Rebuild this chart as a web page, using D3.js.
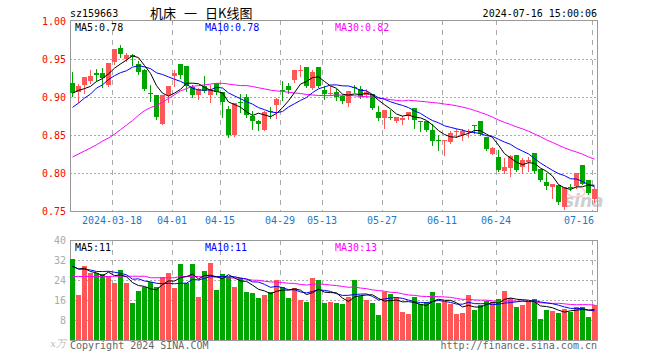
<!DOCTYPE html>
<html><head><meta charset="utf-8">
<script src="https://cdn.jsdelivr.net/npm/d3@7/dist/d3.min.js"></script>
<style>
body{margin:0;background:#fff}
svg{display:block}
text{font-family:"DejaVu Sans Mono",monospace}
</style>
</head><body>
<svg id="c" width="660" height="360"></svg>
<script>
// ---------- data ----------
const code = "sz159663";
const titleParts = ["机床","一","日K线图"];
const stamp = "2024-07-16 15:00:06";
const dates = [
"03-07","03-08","03-11","03-12","03-13","03-14","03-15","03-18","03-19","03-20",
"03-21","03-22","03-25","03-26","03-27","03-28","03-29","04-01","04-02","04-03",
"04-08","04-09","04-10","04-11","04-12","04-15","04-16","04-17","04-18","04-19",
"04-22","04-23","04-24","04-25","04-26","04-29","04-30","05-06","05-07","05-08",
"05-09","05-10","05-13","05-14","05-15","05-16","05-17","05-20","05-21","05-22",
"05-23","05-24","05-27","05-28","05-29","05-30","05-31","06-03","06-04","06-05",
"06-06","06-07","06-11","06-12","06-13","06-14","06-17","06-18","06-19","06-20",
"06-21","06-24","06-25","06-26","06-27","06-28","07-01","07-02","07-03","07-04",
"07-05","07-08","07-09","07-10","07-11","07-12","07-15","07-16"];
const opens = [
0.918,0.907,0.916,0.921,0.932,0.932,0.916,0.946,0.964,0.950,
0.955,0.944,0.935,0.9052,0.902,0.865,0.902,0.928,0.944,0.941,
0.9135,0.902,0.915,0.9025,0.918,0.906,0.8846,0.850,0.8934,0.9003,
0.8753,0.8687,0.857,0.881,0.8895,0.9087,0.9148,0.922,0.934,0.939,
0.912,0.939,0.9096,0.905,0.906,0.9008,0.892,0.913,0.911,0.903,
0.9035,0.8805,0.8722,0.8736,0.869,0.870,0.8745,0.8854,0.868,0.868,
0.857,0.8437,0.8424,0.8402,0.854,0.8503,0.854,0.8635,0.8678,0.8468,
0.8255,0.8217,0.802,0.807,0.8239,0.808,0.8143,0.8258,0.8051,0.788,
0.781,0.7844,0.7548,0.7816,0.7823,0.8108,0.791,0.7652];
const highs = [
0.933,0.917,0.926,0.935,0.937,0.938,0.945,0.963,0.969,0.958,
0.956,0.947,0.937,0.916,0.902,0.902,0.914,0.936,0.944,0.941,
0.916,0.912,0.927,0.916,0.918,0.906,0.8876,0.892,0.904,0.9043,
0.882,0.870,0.881,0.8863,0.8986,0.9216,0.919,0.935,0.942,0.939,
0.935,0.939,0.914,0.914,0.911,0.903,0.9083,0.916,0.914,0.910,
0.9035,0.8888,0.8832,0.8832,0.874,0.8755,0.880,0.8854,0.869,0.868,
0.8643,0.850,0.8437,0.8555,0.858,0.858,0.858,0.8635,0.868,0.848,
0.834,0.8305,0.8195,0.824,0.8239,0.8195,0.8204,0.8258,0.8051,0.7998,
0.7853,0.7844,0.781,0.7857,0.7998,0.8108,0.791,0.781];
const lows = [
0.901,0.894,0.905,0.918,0.922,0.913,0.914,0.944,0.953,0.948,
0.942,0.930,0.909,0.895,0.871,0.864,0.893,0.915,0.925,0.9075,
0.900,0.897,0.906,0.894,0.904,0.874,0.848,0.849,0.880,0.874,
0.858,0.856,0.856,0.873,0.873,0.896,0.9055,0.920,0.927,0.913,
0.911,0.913,0.898,0.902,0.8963,0.892,0.8885,0.907,0.899,0.900,
0.884,0.870,0.859,0.8714,0.8666,0.865,0.8714,0.859,0.8556,0.8547,
0.837,0.830,0.8231,0.8393,0.848,0.8428,0.8468,0.852,0.850,0.8297,
0.8245,0.802,0.7998,0.796,0.8029,0.7998,0.802,0.7998,0.789,0.7785,
0.7665,0.759,0.7527,0.777,0.780,0.786,0.772,0.762];
const closes = [
0.905,0.914,0.926,0.928,0.929,0.9245,0.945,0.963,0.956,0.955,
0.952,0.933,0.911,0.9048,0.874,0.902,0.914,0.931,0.929,0.915,
0.902,0.910,0.908,0.9096,0.9065,0.893,0.850,0.8916,0.8916,0.8767,
0.869,0.8643,0.8806,0.8797,0.8977,0.9075,0.9096,0.935,0.935,0.915,
0.933,0.915,0.9043,0.9055,0.8995,0.8945,0.9083,0.9125,0.9015,0.9068,
0.8855,0.8725,0.8832,0.8732,0.8736,0.872,0.8797,0.8695,0.8678,0.857,
0.8415,0.8432,0.8437,0.8525,0.8547,0.8547,0.8547,0.8632,0.8512,0.8318,
0.8328,0.8042,0.8073,0.8225,0.8042,0.8165,0.8174,0.803,0.791,0.7834,
0.7853,0.7615,0.781,0.7812,0.7998,0.786,0.7735,0.7784];
const volumes = [
32.6,18.2,29.8,27.0,26.7,26.6,25.6,23.0,28.2,23.0,
15.0,19.7,21.3,23.4,21.1,25.3,27.0,21.0,30.4,23.0,
30.4,17.4,27.8,30.8,20.2,26.4,25.4,21.4,24.7,19.3,
19.0,17.0,18.2,19.1,24.1,21.4,17.0,20.9,16.2,15.4,
25.0,24.1,15.0,15.3,14.9,14.5,17.4,24.2,17.8,16.1,
14.9,10.1,19.1,18.5,17.3,11.3,10.5,17.4,14.6,15.3,
19.3,14.9,15.3,14.5,10.5,10.9,18.1,12.1,14.2,15.7,
15.2,16.5,19.7,16.9,13.3,14.1,15.7,16.5,8.5,12.1,
11.7,10.9,12.5,11.2,13.3,13.3,9.3,14.1];
// moving-average values at the start of the window (their history lies before the chart)
const ma5Head = [0.905,0.9087,0.911,0.914];
const ma10Head = [0.8863,0.892,0.8986,0.9038,0.9117,0.916,0.923,0.928,0.932];
const ma30Head = [0.821,0.825,0.829,0.833,0.837,0.842,0.846,0.851,0.857,0.863,
0.869,0.876,0.882,0.886,0.889,0.893,0.898,0.903,0.908,0.911,
0.914,0.915,0.916,0.917,0.918,0.918,0.917,0.916,0.915];
const vma5Head = [29.4,28.4,28.7,27.4];
const vma10Head = [29.6,28.4,28.3,28.0,27.4,27.4,27.5,27.1,26.7];
const vma30Head = [25.4,25.4,25.4,25.4,25.4,25.4,25.4,25.5,25.5,25.5,
25.5,25.5,25.5,24.9,24.9,24.9,24.9,24.9,25.4,25.4,
25.4,25.4,25.2,25.2,25.2,25.2,24.8,24.8,24.8];
const priceTicks = [1.00,0.95,0.90,0.85,0.80,0.75];
const volTicks = [40,32,24,16,8];
const tickDates = ["03-18","04-01","04-15","04-29","05-13","05-27","06-11","06-24","07-16"];
const tickLabels = ["2024-03-18","04-01","04-15","04-29","05-13","05-27","06-11","06-24","07-16"];
const priceMaLabels = ["MA5:0.78","MA10:0.78","MA30:0.82"];
const volMaLabels = ["MA5:11","MA10:11","MA30:13"];
const volUnit = "x万";
const copyright = "Copyright 2024 SINA.COM";
const site = "http://finance.sina.com.cn";

// ---------- drawing ----------
const UP = "#ff5757", DOWN = "#00a600";
const maColors = ["#000000","#0000ff","#ff00ff"];
const L = 70, R = 597;
const svg = d3.select("#c");

const x = d3.scaleBand().domain(dates).range([L, R]).paddingInner(1/6).paddingOuter(0);
const cx = d => Math.round(x(d)) + 2.5;
const yP = d3.scaleLinear().domain([0.75, 1.00]).range([211, 21]);
const yV = d3.scaleLinear().domain([0, 40]).range([340, 240]);

function mavg(vals, n, head){
  return vals.map((v,i)=> i < head.length ? head[i] : d3.mean(vals.slice(i-n+1, i+1)));
}
const pMA = [mavg(closes,5,ma5Head), mavg(closes,10,ma10Head), mavg(closes,30,ma30Head)];
const vMA = [mavg(volumes,5,vma5Head), mavg(volumes,10,vma10Head), mavg(volumes,30,vma30Head)];

// header
svg.append("text").attr("x",70).attr("y",17).attr("font-size",10).text(code);
const titleX = [150,184,205];
titleParts.forEach((t,k)=> svg.append("text").attr("x",titleX[k]).attr("y",18).attr("font-size",13)
  .style("font-family",'"Noto Sans CJK SC",sans-serif').text(t));
svg.append("text").attr("x",597).attr("y",17).attr("font-size",10).attr("text-anchor","end").text(stamp);

function panel(y, ticks, top, bottom, tickFmt, tickColor){
  const g = svg.append("g");
  g.selectAll("line.h").data(ticks.filter(t=>Math.round(y(t))>top+1 && Math.round(y(t))<bottom-1)).join("line")
    .attr("x1",L).attr("x2",R).attr("y1",t=>Math.round(y(t))+0.5).attr("y2",t=>Math.round(y(t))+0.5)
    .attr("stroke","#aaaaaa").attr("stroke-dasharray","2,2");
  g.selectAll("line.v").data(tickDates).join("line")
    .attr("x1",d=>Math.round(x(d))+0.5).attr("x2",d=>Math.round(x(d))+0.5)
    .attr("y1",top).attr("y2",bottom)
    .attr("stroke","#aaaaaa").attr("stroke-dasharray","5,5");
  g.append("rect").attr("x",L+0.5).attr("y",top+0.5).attr("width",R-L).attr("height",bottom-top)
    .attr("fill","none").attr("stroke","#999999");
  g.selectAll("text").data(ticks).join("text")
    .attr("x",66).attr("y",t=>y(t)+3.5).attr("text-anchor","end").attr("font-size",10)
    .attr("fill",tickColor).text(tickFmt);
}
panel(yP, priceTicks, 20, 211, d3.format(".2f"), "#ff0000");
panel(yV, volTicks, 240, 340, d=>String(d), "#aaaaaa");

// date labels
svg.append("g").selectAll("text").data(tickDates).join("text")
  .attr("x",(d,i)=>{ const w = tickLabels[i].length*6.02; let c = Math.round(x(d)); return Math.min(c, R - w/2 - 3); })
  .attr("y",224).attr("text-anchor","middle").attr("font-size",10).attr("fill","#1c78c8")
  .text((d,i)=>tickLabels[i]);

// sina watermark
const wm = svg.append("g").attr("opacity",0.55);
wm.append("ellipse").attr("cx",576).attr("cy",192).attr("rx",9).attr("ry",5)
  .attr("fill","none").attr("stroke","#f4a0a0").attr("stroke-width",1.5);
wm.append("text").attr("x",564).attr("y",207).attr("font-size",17).attr("font-style","italic")
  .attr("font-weight","bold").style("font-family","'DejaVu Sans',sans-serif").attr("fill","#a8a8a8").text("sina");

// candles
const idx = d3.range(dates.length);
const cg = svg.append("g");
cg.selectAll("line.w").data(idx).join("line")
  .attr("x1",i=>cx(dates[i])).attr("x2",i=>cx(dates[i]))
  .attr("y1",i=>Math.round(yP(highs[i]))).attr("y2",i=>Math.round(yP(lows[i]))+1)
  .attr("stroke",i=>closes[i]>=opens[i]?UP:DOWN);
cg.selectAll("rect").data(idx).join("rect")
  .attr("x",i=>Math.round(x(dates[i]))).attr("width",5)
  .attr("y",i=>Math.round(yP(Math.max(opens[i],closes[i]))))
  .attr("height",i=>Math.max(1, Math.round(yP(Math.min(opens[i],closes[i]))) - Math.round(yP(Math.max(opens[i],closes[i])))))
  .attr("fill",i=>closes[i]>=opens[i]?UP:DOWN);

// volume bars
svg.append("g").selectAll("rect").data(idx).join("rect")
  .attr("x",i=>Math.round(x(dates[i]))).attr("width",5)
  .attr("y",i=>Math.round(yV(volumes[i]))).attr("height",i=>340-Math.round(yV(volumes[i])))
  .attr("fill",i=>closes[i]>=opens[i]?UP:DOWN);

// MA lines
const lineP = d3.line().x((v,i)=>cx(dates[i])).y(v=>yP(v));
const lineV = d3.line().x((v,i)=>cx(dates[i])).y(v=>yV(v));
[2,1,0].forEach(k=>{
  svg.append("path").attr("d",lineP(pMA[k])).attr("fill","none").attr("stroke",maColors[k]).attr("stroke-width",1);
  svg.append("path").attr("d",lineV(vMA[k])).attr("fill","none").attr("stroke",maColors[k]).attr("stroke-width",1);
});

// MA legends
const legX = [75,205,335];
priceMaLabels.forEach((t,k)=> svg.append("text").attr("x",legX[k]).attr("y",31).attr("font-size",10).attr("fill",maColors[k]).text(t));
volMaLabels.forEach((t,k)=> svg.append("text").attr("x",legX[k]).attr("y",251).attr("font-size",10).attr("fill",maColors[k]).text(t));

// footer
svg.append("text").attr("x",66).attr("y",347).attr("text-anchor","end").attr("font-size",10)
  .attr("fill","#bbbbbb").attr("font-style","italic").style("font-family","'DejaVu Serif',serif").text(volUnit);
svg.append("text").attr("x",70).attr("y",349).attr("font-size",10).attr("fill","#666666").text(copyright);
svg.append("text").attr("x",597).attr("y",349).attr("text-anchor","end").attr("font-size",10).attr("fill","#666666").text(site);
</script>
</body></html>
